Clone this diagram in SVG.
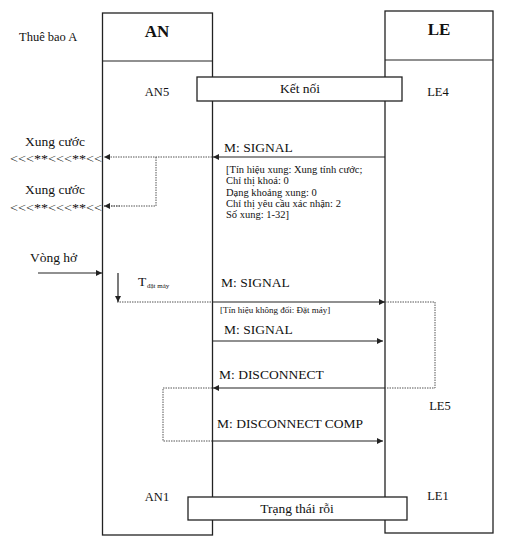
<svg xmlns="http://www.w3.org/2000/svg" width="511" height="543" viewBox="0 0 511 543">
<defs>
<style>
text{font-family:"Liberation Serif","Times New Roman",serif;fill:#111}
.box{fill:#fff;stroke:#222;stroke-width:1.3}
.hdr{font-size:17px;font-weight:bold}
.st{font-size:12.5px}
.msg{font-size:13.5px}
.lt{font-size:12px}
.note{font-size:10.5px}
.solid{stroke:#222;stroke-width:1.2;fill:none}
.dot{stroke:#555;stroke-width:1;stroke-dasharray:1.5 1;fill:none}
</style>
<marker id="ah" viewBox="0 0 10 10" refX="10" refY="5" markerWidth="7" markerHeight="6" orient="auto" markerUnits="userSpaceOnUse">
<path d="M0,0 L10,5 L0,10 z" fill="#222"/>
</marker>
</defs>
<rect width="511" height="543" fill="#fff"/>

<g id="AN">
<rect class="box" x="102.5" y="13" width="110" height="522"/>
<line class="solid" x1="102.5" y1="61" x2="212.5" y2="61"/>
<text class="hdr" x="157" y="37" text-anchor="middle">AN</text>
<text class="st" x="157" y="96" text-anchor="middle">AN5</text>
<text class="st" x="157" y="501" text-anchor="middle">AN1</text>
</g>

<g id="LE">
<rect class="box" x="385" y="11" width="108" height="522"/>
<line class="solid" x1="385" y1="60" x2="493" y2="60"/>
<text class="hdr" x="439" y="35" text-anchor="middle">LE</text>
<text class="st" x="438" y="96" text-anchor="middle">LE4</text>
<text class="st" x="440" y="410" text-anchor="middle">LE5</text>
<text class="st" x="438" y="500" text-anchor="middle">LE1</text>
</g>

<g id="subscriber">
<text class="st" x="19" y="41">Thuê bao A</text>
</g>

<g id="ketnoi">
<rect class="box" x="197" y="77" width="205" height="24"/>
<text class="msg" x="300" y="93" text-anchor="middle">Kết nối</text>
</g>

<g id="trangthai">
<rect class="box" x="188" y="497" width="219" height="23"/>
<text class="msg" x="297" y="513" text-anchor="middle">Trạng thái rỗi</text>
</g>

<g id="xungcuoc1">
<text class="msg" x="55" y="146" text-anchor="middle">Xung cước</text>
<text class="lt" x="10" y="163" textLength="92" lengthAdjust="spacingAndGlyphs">&lt;&lt;&lt;**&lt;&lt;&lt;**&lt;&lt;</text>
</g>
<g id="xungcuoc2">
<text class="msg" x="55" y="194" text-anchor="middle">Xung cước</text>
<text class="lt" x="10" y="212" textLength="92" lengthAdjust="spacingAndGlyphs">&lt;&lt;&lt;**&lt;&lt;&lt;**&lt;&lt;</text>
</g>
<g id="vongho">
<text class="msg" x="30" y="262">Vòng hở</text>
</g>
<g id="tdatmay">
<text class="msg" x="138" y="286">T</text>
<text x="147" y="288" style="font-size:7px">đặt máy</text>
</g>

<g id="labels">
<text class="msg" x="224" y="152">M: SIGNAL</text>
<text class="note" x="226" y="173">[Tín hiệu xung: Xung tính cước;</text>
<text class="note" x="226" y="184">Chỉ thị khoá: 0</text>
<text class="note" x="226" y="196">Dạng khoảng xung: 0</text>
<text class="note" x="226" y="207">Chỉ thị yêu cầu xác nhận: 2</text>
<text class="note" x="226" y="218">Số xung: 1-32]</text>
<text class="msg" x="221" y="287">M: SIGNAL</text>
<text x="220" y="313" style="font-size:9px">[Tín hiệu không đổi: Đặt máy]</text>
<text class="msg" x="224" y="334">M: SIGNAL</text>
<text class="msg" x="219" y="379">M: DISCONNECT</text>
<text class="msg" x="217" y="428">M: DISCONNECT COMP</text>
</g>

<g id="connectors">
<line class="solid" x1="385" y1="157" x2="213" y2="157" marker-end="url(#ah)"/>
<line class="dot" x1="212" y1="157" x2="104" y2="157" marker-end="url(#ah)"/>
<polyline class="dot" points="156,157 156,206 104,206"/>
<line class="dot" x1="120" y1="206" x2="104" y2="206" marker-end="url(#ah)"/>
<line class="solid" x1="38" y1="273" x2="102" y2="273" marker-end="url(#ah)"/>
<line class="solid" x1="118" y1="273" x2="118" y2="302" marker-end="url(#ah)"/>
<line class="dot" x1="117" y1="302" x2="212" y2="302"/>
<line class="solid" x1="212" y1="302" x2="385" y2="302" marker-end="url(#ah)"/>
<line class="solid" x1="212" y1="341" x2="383" y2="341" marker-end="url(#ah)"/>
<polyline class="dot" points="385,302 435,302 435,388 385,388"/>
<line class="solid" x1="385" y1="388" x2="213" y2="388" marker-end="url(#ah)"/>
<polyline class="dot" points="212,388 163,388 163,441 212,441"/>
<line class="solid" x1="212" y1="441" x2="383" y2="441" marker-end="url(#ah)"/>
</g>
</svg>
